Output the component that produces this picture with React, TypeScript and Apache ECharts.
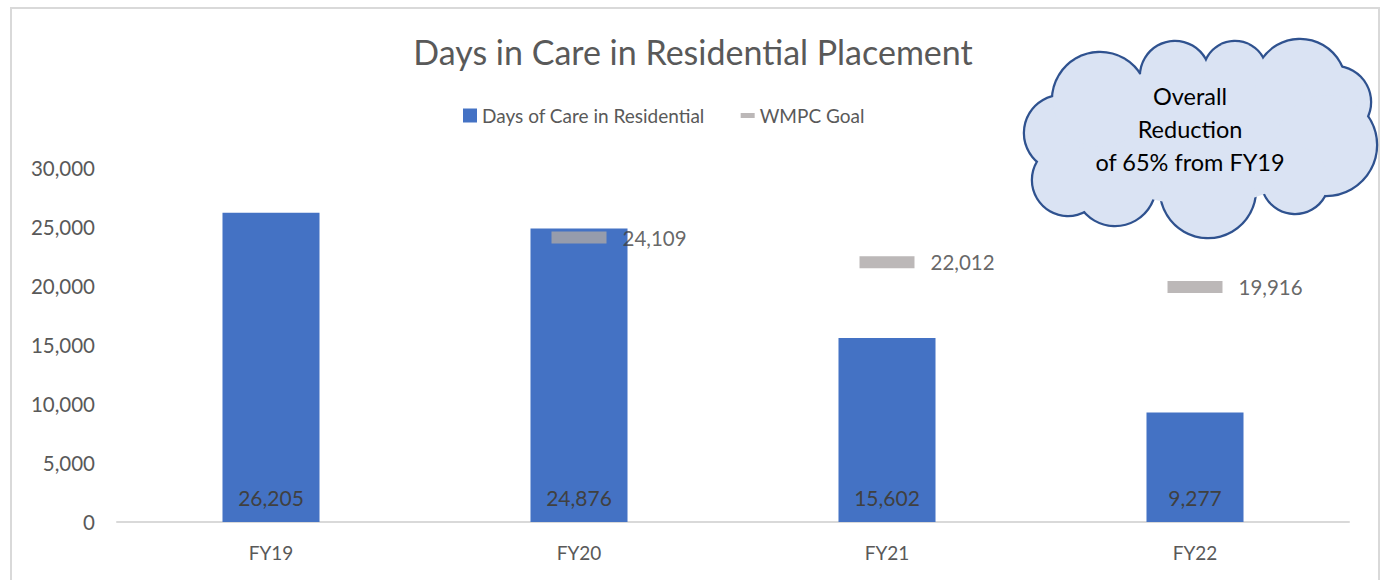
import React, { useEffect, useRef } from "react";
import * as echarts from "echarts";

const categories = ["FY19", "FY20", "FY21", "FY22"];
const daysOfCare = [26205, 24876, 15602, 9277];
const wmpcGoal: (number | null)[] = [null, 24109, 22012, 19916];
const yTicks = { min: 0, max: 30000, interval: 5000 };
const cloudLines = ["Overall", "Reduction", "of 65% from FY19"];

const FONT = "Lato";
const fmt = (v: number) => v.toLocaleString("en-US");

// cloud lobes (cx, cy, r) in pixels
const lobes = [
  [1062, 133, 37],
  [1068, 180, 35],
  [1100, 100, 47],
  [1175, 76, 34],
  [1235, 73, 31],
  [1300, 85, 45],
  [1335, 102, 35],
  [1326, 145, 50],
  [1295, 180, 33],
  [1208, 190, 47],
  [1115, 185, 40],
];

export default function App() {
  const ref = useRef<HTMLDivElement>(null);
  useEffect(() => {
    const chart = echarts.init(ref.current!, undefined, { renderer: "svg" });
    const strokeCircles = lobes.map(([cx, cy, r]) => ({
      type: "circle",
      shape: { cx, cy, r },
      style: { fill: "#DAE3F3", stroke: "#2F528F", lineWidth: 4.5 },
      z: 10,
    }));
    const fillCircles = lobes.map(([cx, cy, r]) => ({
      type: "circle",
      shape: { cx, cy, r },
      style: { fill: "#DAE3F3", stroke: null },
      z: 11,
    }));
    chart.setOption({
      animation: false,
      backgroundColor: "#ffffff",
      textStyle: { fontFamily: FONT },
      title: {
        text: "Days in Care in Residential Placement",
        left: "center",
        top: 29,
        textStyle: { fontFamily: FONT, fontSize: 34, fontWeight: "normal", color: "#595959" },
      },
      legend: {
        top: 101,
        left: 458,
        itemWidth: 14,
        itemHeight: 14,
        itemGap: 36,
        textStyle: { fontFamily: FONT, fontSize: 19, color: "#595959" },
        data: [
          { name: "Days of Care in Residential", icon: "rect" },
          { name: "WMPC Goal", icon: "path://M0,0 H14 V5 H0 Z" },
        ],
      },
      grid: { left: 117, right: 37, top: 168, bottom: 58 },
      xAxis: {
        type: "category",
        data: categories,
        axisLine: { lineStyle: { color: "#D9D9D9", width: 2 } },
        axisTick: { show: false },
        axisLabel: { fontFamily: FONT, fontSize: 19, color: "#595959", margin: 21 },
      },
      yAxis: {
        type: "value",
        min: yTicks.min,
        max: yTicks.max,
        interval: yTicks.interval,
        splitLine: { show: false },
        axisLine: { show: false },
        axisTick: { show: false },
        axisLabel: {
          fontFamily: FONT,
          fontSize: 20.5,
          color: "#595959",
          margin: 22,
          formatter: (v: number) => fmt(v),
        },
      },
      series: [
        {
          name: "Days of Care in Residential",
          type: "bar",
          data: daysOfCare,
          barWidth: "31.5%",
          itemStyle: { color: "#4472C4" },
          label: {
            show: true,
            position: "insideBottom",
            distance: 14,
            fontFamily: FONT,
            fontSize: 21,
            color: "#404040",
            formatter: (p: any) => fmt(p.value),
          },
        },
        {
          name: "WMPC Goal",
          type: "scatter",
          data: wmpcGoal,
          symbol: "rect",
          symbolSize: [55, 12],
          itemStyle: { color: "#ABA6A6" },
          z: 5,
          label: {
            show: true,
            position: "right",
            distance: 16,
            fontFamily: FONT,
            fontSize: 20.5,
            color: "#404040",
            formatter: (p: any) => fmt(p.value),
          },
        },
      ],
      graphic: [
        {
          type: "rect",
          shape: { x: 11, y: 8, width: 1368, height: 580 },
          style: { fill: null, stroke: "#D9D9D9", lineWidth: 2 },
          silent: true,
          z: 0,
        },
        ...strokeCircles,
        {
          type: "ellipse",
          shape: { cx: 1200, cy: 135, rx: 120, ry: 70 },
          style: { fill: "#DAE3F3", stroke: null },
          z: 11,
        },
        ...fillCircles,
        {
          type: "text",
          x: 1190,
          y: 129,
          z: 12,
          style: {
            text: cloudLines.join("\n"),
            fontFamily: FONT,
            fontSize: 23.5,
            lineHeight: 33,
            fill: "#000000",
            align: "center",
            verticalAlign: "middle",
          },
        },
      ],
    });
    return () => chart.dispose();
  }, []);
  return (
    <div
      ref={ref}
      style={{ position: "fixed", left: 0, top: 0, width: 1386, height: 580 }}
    />
  );
}
